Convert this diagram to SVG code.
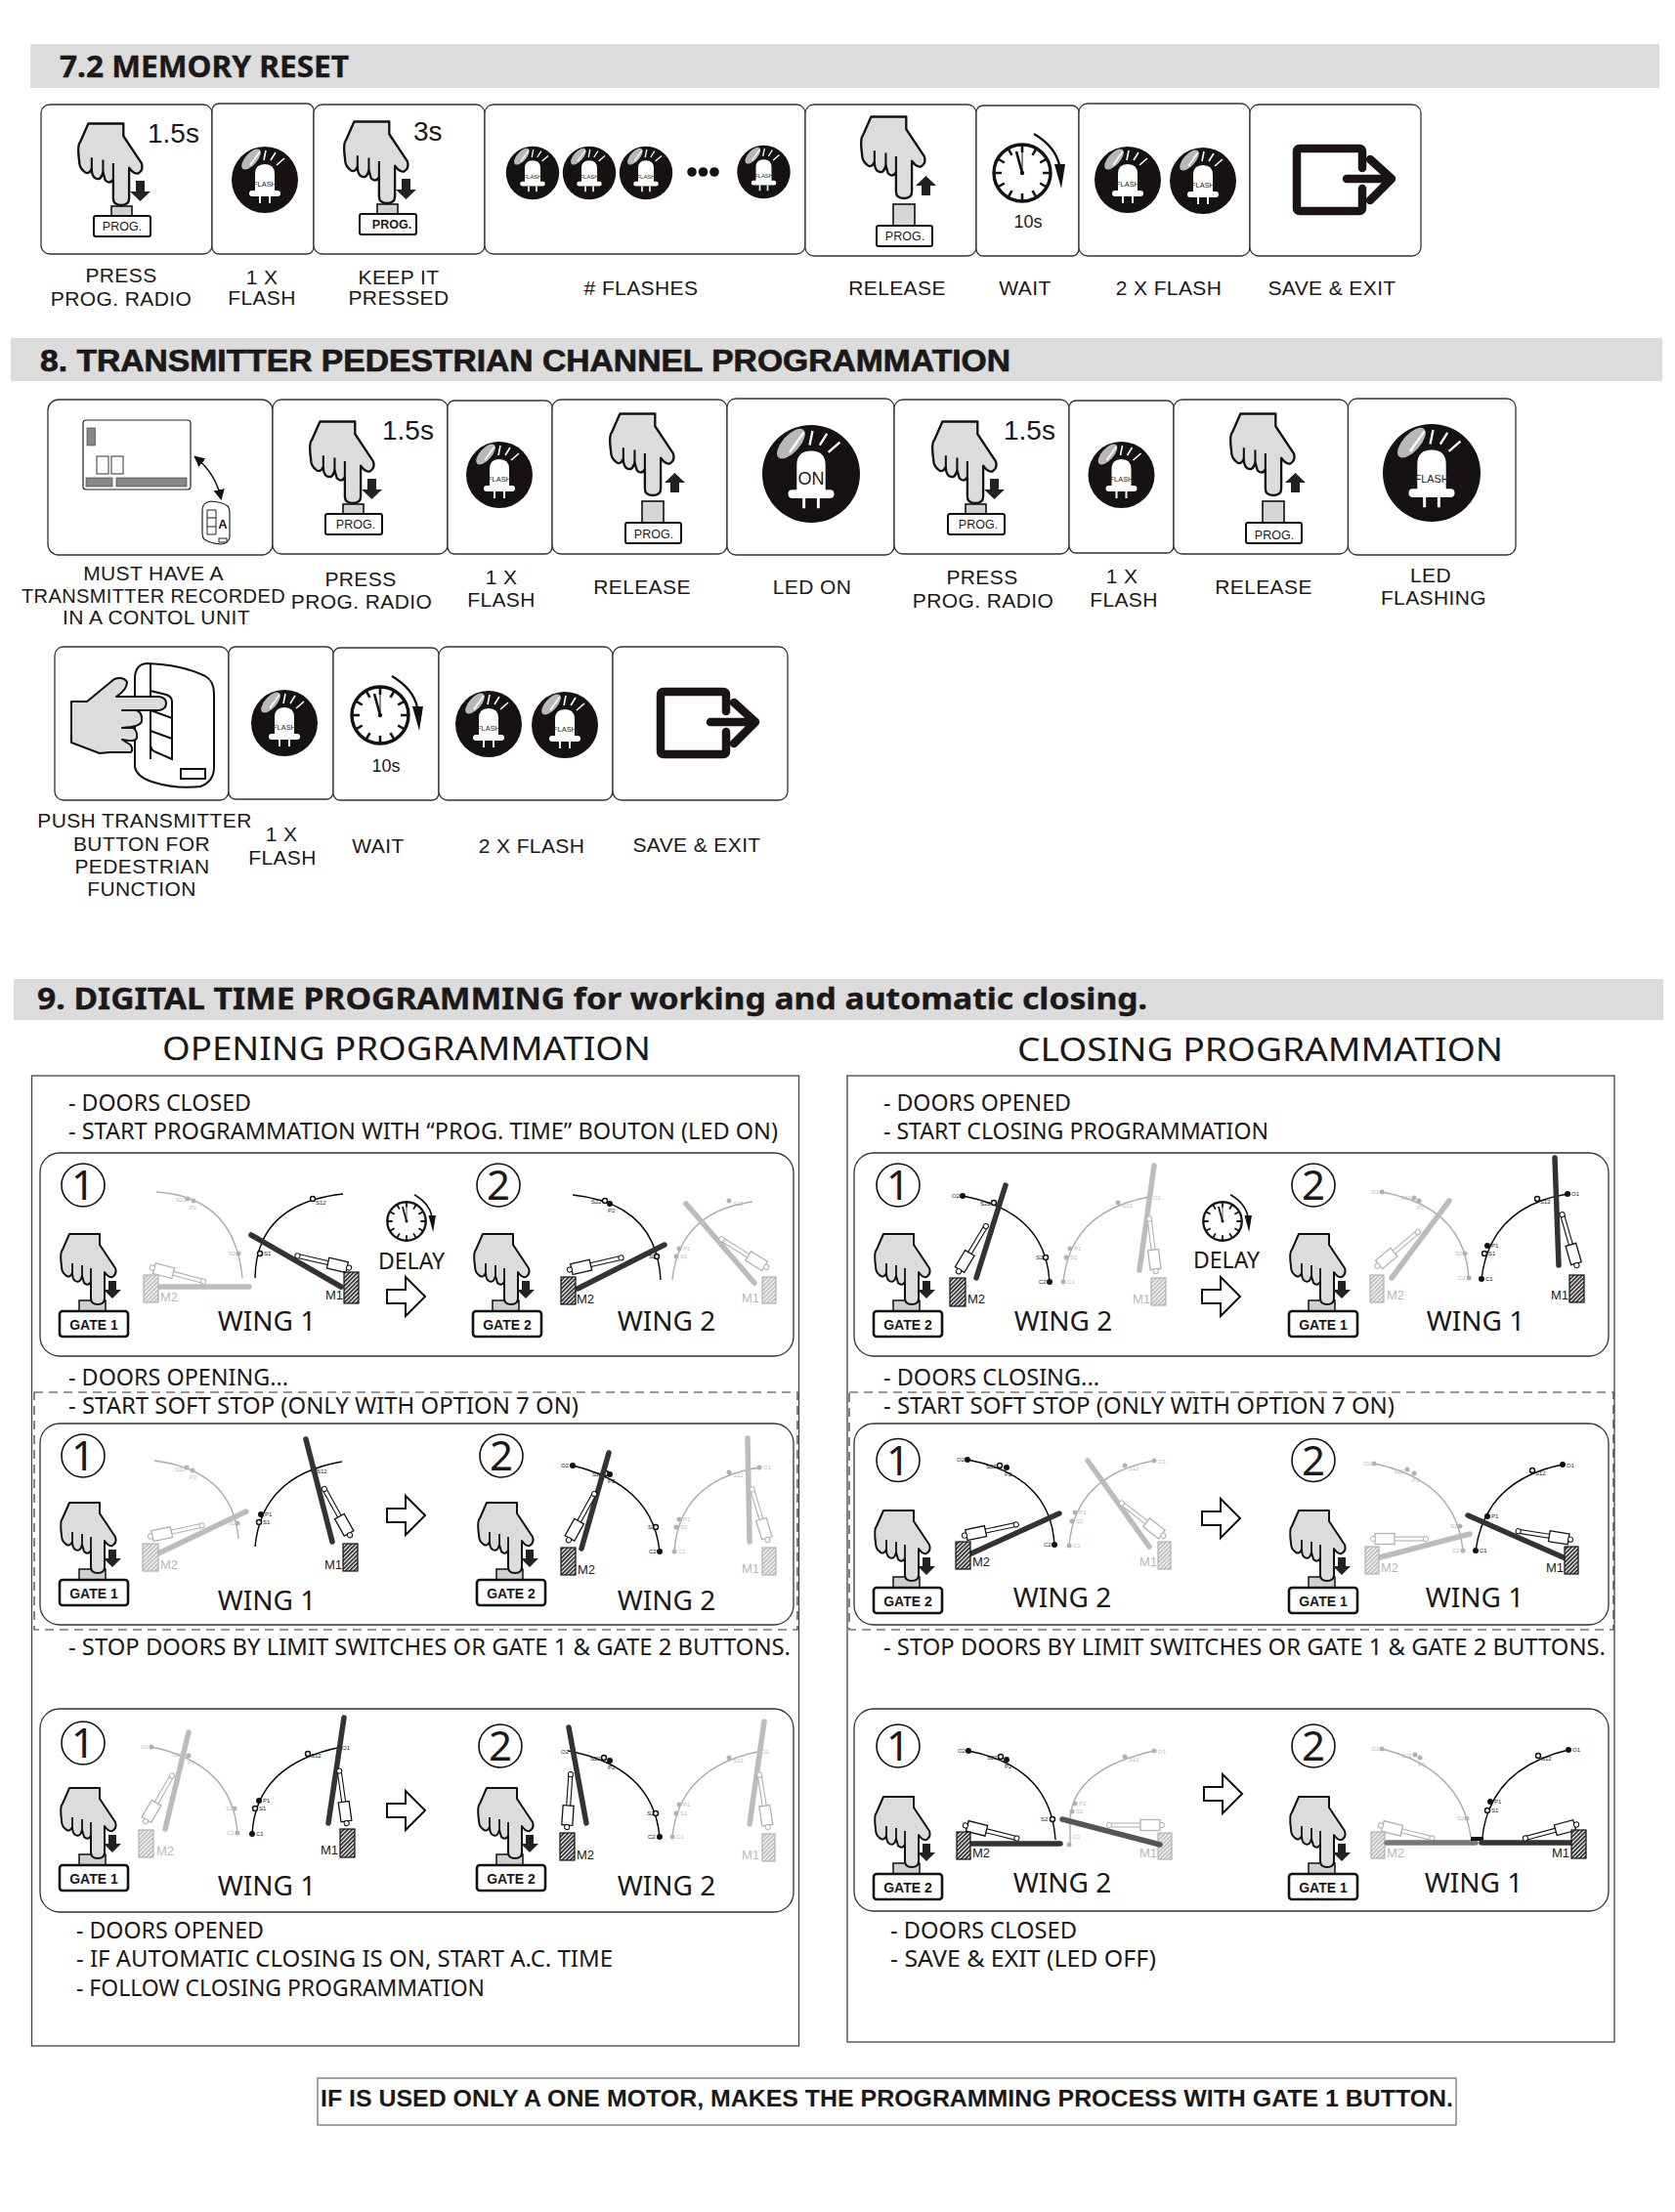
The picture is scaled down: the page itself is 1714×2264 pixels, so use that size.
<svg xmlns="http://www.w3.org/2000/svg" width="1714" height="2264" viewBox="0 0 1714 2264">
<style>
text{font-family:"Liberation Sans",Arial,sans-serif;fill:#1c1818}
.hd{fill:#dcdcdc}
.hb{font-weight:700;font-size:32px;stroke:#1c1818;stroke-width:.7}
.hn{font-family:"Noto Sans",sans-serif;font-weight:700;font-size:31px;stroke:#1c1818;stroke-width:.4}
.box{fill:#fff;stroke:#333;stroke-width:1.3}
.lb{font-size:21px;letter-spacing:.4px;text-anchor:middle}
.pg{font-size:12.5px;text-anchor:middle}
.pb{font-size:12.5px;font-weight:700;text-anchor:middle}
.sec{font-size:28px}
.ten{font-size:18px;text-anchor:middle}
.fl{font-size:7.4px;text-anchor:middle;fill:#222}
.s9{font-family:"Noto Sans",sans-serif;font-size:23px}
.ti{font-family:"Noto Sans",sans-serif;font-size:33px}
.pan{fill:#fff;stroke:#333;stroke-width:1.3}
.out{fill:#fff;stroke:#444;stroke-width:1.3}
.dash{fill:none;stroke:#333;stroke-width:1.2;stroke-dasharray:9 6}
.ci{fill:#fff;stroke:#111;stroke-width:1.6}
.n{font-family:"Noto Sans",sans-serif;font-size:42px;text-anchor:middle}
.w{font-family:"Noto Sans",sans-serif;font-size:28px;text-anchor:middle}
.dl{font-family:"Noto Sans",sans-serif;font-size:23px;text-anchor:middle}
.gt{font-size:14px;font-weight:700;text-anchor:middle}
.a{fill:none;stroke:#000;stroke-width:1.4}
.leaf{stroke:#333;stroke-width:5.5;stroke-linecap:round}
.d{fill:#111}
.o{fill:#fff;stroke:#111;stroke-width:1.5}
.t{font-size:6px}
.m{font-size:13px}
.me{font-size:13px;text-anchor:end}
.mb{fill:url(#hatch);stroke:#111;stroke-width:1.2}
.off{opacity:.32}
.bl{fill:#171212}
</style>
<defs>
<pattern id="hatch" width="3" height="3" patternUnits="userSpaceOnUse" patternTransform="rotate(45)"><rect width="3" height="3" fill="#fff"/><rect width="1.7" height="3" fill="#222"/></pattern>
<marker id="tri" viewBox="0 0 10 10" refX="8" refY="5" markerWidth="7" markerHeight="7" orient="auto-start-reverse"><path d="M0,0L10,5L0,10Z" fill="#111"/></marker>
<g id="hand"><path d="M-29,-72H2V-61L18,-37Q20,-31 15,-28Q11,-27 7,-33V-6Q7,0 0,0Q-7,0 -7,-6V-23Q-10,-18 -14,-22L-16,-29Q-18,-21 -23,-24Q-26,-26 -26,-32Q-29,-26 -33,-30Q-37,-33 -37,-39Q-39,-53 -36,-56Z" fill="#dcdcdc" stroke="#111" stroke-width="2" stroke-linejoin="round"/><path d="M-7,-23V-37M-16,-29V-40M-26,-32V-42" fill="none" stroke="#111" stroke-width="1.8"/></g>
<g id="pr"><rect x="-10" y="1" width="21" height="10" fill="#d0d0d0" stroke="#111" stroke-width="1.6"/><use href="#hand" transform="scale(1.16)"/><rect x="-28" y="11" width="58" height="21" rx="2" fill="#fff" stroke="#111" stroke-width="2"/><path d="M15,-25H24V-14H30L19.5,-4L9,-14H15Z" fill="#222"/></g>
<g id="rl"><use href="#hand" transform="scale(1.16)"/><rect x="-11" y="6" width="22" height="22" fill="#d6d6d6" stroke="#111" stroke-width="1.6"/><rect x="-28" y="28" width="57" height="21" rx="2" fill="#fff" stroke="#111" stroke-width="2"/><path d="M18,-3H27V-13H33L22.5,-23L12,-13H18Z" fill="#222"/></g>
<g id="gb"><rect x="-19" y="-4" width="27" height="11" fill="#cfcfcf" stroke="#111" stroke-width="1.5"/><use href="#hand"/><rect x="-39" y="7" width="70" height="26" rx="3" fill="#fff" stroke="#111" stroke-width="2.6"/><path d="M11,-24H19V-15H24L15,-6L6,-15H11Z" fill="#222"/></g>
<g id="led"><circle r="34" fill="#171212"/><ellipse cx="-14" cy="-21" rx="13" ry="6" transform="rotate(-48 -14 -21)" fill="#b8b8b8"/><path d="M-15,-15L-5,-29M-1,-20L1,-30M6,-20L11,-28M12,-15L20,-22" stroke="#fff" stroke-width="1.6" fill="none"/><path d="M-10,11V-6Q-10,-16 0,-16Q10,-16 10,-6V11H13Q16,11 16,14Q16,17 13,17H-13Q-16,17 -16,14Q-16,11 -13,11Z" fill="#fff"/><path d="M-5,17V24M5,17V24" stroke="#fff" stroke-width="2"/></g>
<g id="clock"><circle r="29" fill="#fff" stroke="#111" stroke-width="3.4"/><path d="M0,-28V-21M14,-24.2L10.5,-18.2M24.2,-14L18.2,-10.5M28,0H21M24.2,14L18.2,10.5M14,24.2L10.5,18.2M0,28V21M-14,24.2L-10.5,18.2M-24.2,14L-18.2,10.5M-28,0H-21M-24.2,-14L-18.2,-10.5M-14,-24.2L-10.5,-18.2" stroke="#111" stroke-width="2.6" fill="none"/><path d="M0,0L-6,-22" stroke="#111" stroke-width="2.6"/><path d="M0,0V-26" stroke="#111" stroke-width="1"/><circle r="2.2" fill="#111"/><path d="M12,-40Q34,-27 38,-8" fill="none" stroke="#111" stroke-width="2.4"/><path d="M33,-9H44L40,16Z" fill="#111"/></g>
<g id="exit" fill="none" stroke="#1a1414" stroke-width="8.5" stroke-linecap="round" stroke-linejoin="round"><path d="M70,-11V-28Q70,-31 67,-31H6Q3,-31 3,-28V30Q3,33 6,33H67Q70,33 70,30V10"/><path d="M54,0H97M78,-20L100,0L78,22"/></g>
<path id="ar" d="M0,13H19V0L39,20L19,40V27H0Z" fill="#fff" stroke="#111" stroke-width="2"/>
<g id="act"><rect x="20" y="-2" width="36" height="4" fill="#fff" stroke="#111" stroke-width="1.1"/><rect x="4" y="-5.5" width="20" height="11" fill="#fff" stroke="#111" stroke-width="1.3"/><circle cx="56" r="2.6" fill="#fff" stroke="#111"/><circle cx="2" r="2.6" fill="#fff" stroke="#111"/></g>
</defs>
<rect width="1714" height="2264" fill="#fff"/>

<g id="sec72">
<rect class="hd" x="31" y="45" width="1667" height="45"/>
<text class="hn" x="61" y="79" textLength="296" lengthAdjust="spacingAndGlyphs">7.2 MEMORY RESET</text>
<g id="s72-1"><rect class="box" x="42" y="107" width="175" height="153" rx="9"/><use href="#pr" transform="translate(124,210)"/><text class="pg" x="125" y="236">PROG.</text><text class="sec" x="151" y="146">1.5s</text><text class="lb" x="124" y="289">PRESS</text><text class="lb" x="124" y="313">PROG. RADIO</text></g>
<g id="s72-2"><rect class="box" x="217" y="106" width="104" height="154" rx="7"/><g transform="translate(271,184)"><use href="#led"/><text class="fl" y="7">FLASH</text></g><text class="lb" x="268" y="291">1 X</text><text class="lb" x="268" y="312">FLASH</text></g>
<g id="s72-3"><rect class="box" x="321" y="107" width="175" height="153" rx="9"/><use href="#pr" transform="translate(396,208)"/><text class="pb" x="401" y="234">PROG.</text><text class="sec" x="423" y="144">3s</text><text class="lb" x="408" y="291">KEEP IT</text><text class="lb" x="408" y="312">PRESSED</text></g>
<g id="s72-4"><rect class="box" x="496" y="107" width="328" height="153" rx="9"/>
<g transform="translate(545,177) scale(.8)"><use href="#led"/><text class="fl" y="7">FLASH</text></g>
<g transform="translate(603,177) scale(.8)"><use href="#led"/><text class="fl" y="7">FLASH</text></g>
<g transform="translate(661,177) scale(.8)"><use href="#led"/><text class="fl" y="7">FLASH</text></g>
<circle class="bl" cx="708" cy="176" r="4.8"/><circle class="bl" cx="719.5" cy="176" r="4.8"/><circle class="bl" cx="731" cy="176" r="4.8"/>
<g transform="translate(781.5,176) scale(.8)"><use href="#led"/><text class="fl" y="7">FLASH</text></g>
<text class="lb" x="656" y="302"># FLASHES</text></g>
<g id="s72-5"><rect class="box" x="824" y="107" width="175" height="155" rx="9"/><use href="#rl" transform="translate(925,203)"/><text class="pg" x="926" y="246">PROG.</text><text class="lb" x="918" y="302">RELEASE</text></g>
<g id="s72-6"><rect class="box" x="999" y="108" width="105" height="154" rx="7"/><use href="#clock" transform="translate(1046,177)"/><text class="ten" x="1052" y="233">10s</text><text class="lb" x="1049" y="302">WAIT</text></g>
<g id="s72-7"><rect class="box" x="1104" y="106" width="175" height="156" rx="9"/><g transform="translate(1154,184)"><use href="#led"/><text class="fl" y="7">FLASH</text></g><g transform="translate(1231,185)"><use href="#led"/><text class="fl" y="7">FLASH</text></g><text class="lb" x="1196" y="302">2 X FLASH</text></g>
<g id="s72-8"><rect class="box" x="1279" y="107" width="175" height="155" rx="9"/><use href="#exit" transform="translate(1324,183)"/><text class="lb" x="1363" y="302">SAVE &amp; EXIT</text></g>
</g>

<g id="sec8">
<rect class="hd" x="11" y="346" width="1690" height="44"/>
<text class="hb" x="41" y="380" textLength="993" lengthAdjust="spacingAndGlyphs">8. TRANSMITTER PEDESTRIAN CHANNEL PROGRAMMATION</text>
<g id="s8-1"><rect class="box" x="49" y="409" width="230" height="159" rx="11"/>
<rect x="85" y="430" width="110" height="71" rx="3" fill="#fff" stroke="#222" stroke-width="1.2"/><rect x="89" y="438" width="8.5" height="18" fill="#888" stroke="#333" stroke-width=".6"/><rect x="99" y="467" width="12" height="18" fill="#fff" stroke="#333"/><rect x="114" y="467" width="12" height="18" fill="#fff" stroke="#333"/><rect x="88" y="489" width="27" height="9" fill="#888" stroke="#333" stroke-width=".6"/><rect x="119" y="489" width="72" height="9" fill="#888" stroke="#333" stroke-width=".6"/>
<path d="M200,468Q221,485 226,510" fill="none" stroke="#111" stroke-width="1.6" marker-start="url(#tri)" marker-end="url(#tri)"/>
<path d="M207,522Q207,514 216,513Q228,514 233,518Q235,520 235,526V550Q234,556 226,557Q215,556 209,552Q207,550 207,546Z" fill="#fff" stroke="#222" stroke-width="1.2"/><path d="M212,522V547M221,522V547M212,530H221M212,539H221M212,522H221M212,547H221" fill="none" stroke="#222"/><rect x="224" y="551" width="8" height="4" fill="#fff" stroke="#222"/><text x="228" y="541" font-size="13" font-weight="700" text-anchor="middle">A</text>
<text class="lb" x="157" y="594">MUST HAVE A</text><text class="lb" x="157" y="617" textLength="270" lengthAdjust="spacingAndGlyphs">TRANSMITTER RECORDED</text><text class="lb" x="160" y="639">IN A CONTOL UNIT</text></g>
<g id="s8-2"><rect class="box" x="279" y="409" width="179" height="158" rx="9"/><use href="#pr" transform="translate(361,515)"/><text class="pg" x="364" y="541">PROG.</text><text class="sec" x="391" y="450">1.5s</text><text class="lb" x="369" y="600">PRESS</text><text class="lb" x="370" y="623">PROG. RADIO</text></g>
<g id="s8-3"><rect class="box" x="458" y="410" width="107" height="157" rx="7"/><g transform="translate(511,486)"><use href="#led"/><text class="fl" y="7">FLASH</text></g><text class="lb" x="513" y="598">1 X</text><text class="lb" x="513" y="621">FLASH</text></g>
<g id="s8-4"><rect class="box" x="565" y="409" width="179" height="158" rx="9"/><use href="#rl" transform="translate(668,507)"/><text class="pg" x="669" y="551">PROG.</text><text class="lb" x="657" y="608">RELEASE</text></g>
<g id="s8-5"><rect class="box" x="744" y="408" width="171" height="160" rx="9"/><g transform="translate(830,485) scale(1.47)"><use href="#led"/></g><text x="830" y="496" font-size="18" text-anchor="middle">ON</text><text class="lb" x="831" y="608">LED ON</text></g>
<g id="s8-6"><rect class="box" x="915" y="409" width="179" height="158" rx="9"/><use href="#pr" transform="translate(998,515)"/><text class="pg" x="1001" y="541">PROG.</text><text class="sec" x="1027" y="450">1.5s</text><text class="lb" x="1005" y="598">PRESS</text><text class="lb" x="1006" y="622">PROG. RADIO</text></g>
<g id="s8-7"><rect class="box" x="1094" y="410" width="107" height="156" rx="7"/><g transform="translate(1147.5,486)"><use href="#led"/><text class="fl" y="7">FLASH</text></g><text class="lb" x="1148" y="597">1 X</text><text class="lb" x="1150" y="621">FLASH</text></g>
<g id="s8-8"><rect class="box" x="1201" y="409" width="178.500" height="158" rx="9"/><use href="#rl" transform="translate(1303,507)"/><text class="pg" x="1304" y="552">PROG.</text><text class="lb" x="1293" y="608">RELEASE</text></g>
<g id="s8-9"><rect class="box" x="1379.500" y="408" width="171.500" height="160" rx="9"/><g transform="translate(1465,484) scale(1.47)"><use href="#led"/><text class="fl" y="7">FLASH</text></g><text class="lb" x="1464" y="596">LED</text><text class="lb" x="1467" y="619">FLASHING</text></g>
<g id="s8-10"><rect class="box" x="56" y="662" width="178" height="157" rx="9"/>
<path d="M138,695Q138,680 150,679Q185,680 210,692Q219,697 219,710V785Q219,800 205,805Q180,808 155,800Q140,795 138,785Z" fill="#fff" stroke="#111" stroke-width="2"/><path d="M154,679V777" fill="none" stroke="#111" stroke-width="2"/><path d="M154,707L170,711Q176,713 176,718V777L160,770Q154,768 154,762Z M154,727L176,735M154,748L176,756" fill="#fff" stroke="#111" stroke-width="2"/><rect x="185" y="787" width="25" height="10" fill="#fff" stroke="#111" stroke-width="2"/>
<path d="M73,718H89L117,695Q126,692 130,698Q130,706 119,713H163Q170,714 170,720Q170,726 163,727H125H140Q146,730 145,738Q144,744 125,745H136Q141,748 140,755Q139,760 125,757L133,762Q137,766 134,770H112L102,771L73,760Z" fill="#dcdcdc" stroke="#111" stroke-width="2" stroke-linejoin="round"/>
<text class="lb" x="148" y="847">PUSH TRANSMITTER</text><text class="lb" x="145" y="871">BUTTON FOR</text><text class="lb" x="145.500" y="894">PEDESTRIAN</text><text class="lb" x="145" y="917">FUNCTION</text></g>
<g id="s8-11"><rect class="box" x="234" y="662" width="107" height="156" rx="7"/><g transform="translate(291,740)"><use href="#led"/><text class="fl" y="7">FLASH</text></g><text class="lb" x="288" y="861">1 X</text><text class="lb" x="289" y="885">FLASH</text></g>
<g id="s8-12"><rect class="box" x="341" y="663" width="108" height="156" rx="7"/><use href="#clock" transform="translate(389,732)"/><text class="ten" x="395" y="790">10s</text><text class="lb" x="387" y="873">WAIT</text></g>
<g id="s8-13"><rect class="box" x="449" y="662" width="178" height="157" rx="9"/><g transform="translate(500,741)"><use href="#led"/><text class="fl" y="7">FLASH</text></g><g transform="translate(578,742)"><use href="#led"/><text class="fl" y="7">FLASH</text></g><text class="lb" x="544" y="873">2 X FLASH</text></g>
<g id="s8-14"><rect class="box" x="627" y="662" width="179" height="157" rx="9"/><use href="#exit" transform="translate(673,739)"/><text class="lb" x="713" y="872">SAVE &amp; EXIT</text></g>
</g>

<g id="sec9">
<rect class="hd" x="14" y="1002" width="1688" height="42"/>
<text class="hn" x="38" y="1033" textLength="1136" lengthAdjust="spacingAndGlyphs">9. DIGITAL TIME PROGRAMMING for working and automatic closing.</text>
<text class="ti" x="166" y="1085" textLength="500" lengthAdjust="spacingAndGlyphs">OPENING PROGRAMMATION</text>
<text class="ti" x="1041" y="1086" textLength="497" lengthAdjust="spacingAndGlyphs">CLOSING PROGRAMMATION</text>
</g>

<g id="left-panel">
<rect class="out" x="32.500" y="1101" width="785" height="993"/>
<text class="s9" x="70" y="1137" textLength="187" lengthAdjust="spacingAndGlyphs">- DOORS CLOSED</text>
<text class="s9" x="70" y="1166" textLength="726" lengthAdjust="spacingAndGlyphs">- START PROGRAMMATION WITH “PROG. TIME” BOUTON (LED ON)</text>
<text class="s9" x="70" y="1418" textLength="225" lengthAdjust="spacingAndGlyphs">- DOORS OPENING...</text>
<rect class="dash" x="35" y="1425" width="781" height="243"/>
<text class="s9" x="70" y="1447" textLength="522" lengthAdjust="spacingAndGlyphs">- START SOFT STOP (ONLY WITH OPTION 7 ON)</text>
<text class="s9" x="70" y="1694" textLength="739" lengthAdjust="spacingAndGlyphs">- STOP DOORS BY LIMIT SWITCHES OR GATE 1 &amp; GATE 2 BUTTONS.</text>
<text class="s9" x="78" y="1984" textLength="192" lengthAdjust="spacingAndGlyphs">- DOORS OPENED</text>
<text class="s9" x="78" y="2013" textLength="549" lengthAdjust="spacingAndGlyphs">- IF AUTOMATIC CLOSING IS ON, START A.C. TIME</text>
<text class="s9" x="78" y="2043" textLength="418" lengthAdjust="spacingAndGlyphs">- FOLLOW CLOSING PROGRAMMATION</text>

<g id="L1">
<rect class="pan" x="41" y="1180" width="771" height="208" rx="20"/>
<circle class="ci" cx="85" cy="1213" r="22"/><text class="n" x="85" y="1228">1</text>
<circle class="ci" cx="510" cy="1213" r="22"/><text class="n" x="510" y="1228">2</text>
<g transform="translate(100,1335)"><use href="#gb"/><text class="gt" x="-4" y="26">GATE 1</text></g>
<g transform="translate(523,1335)"><use href="#gb"/><text class="gt" x="-4" y="26">GATE 2</text></g>
<text class="w" x="273" y="1362">WING 1</text><text class="w" x="682" y="1362">WING 2</text>
<use href="#clock" transform="translate(416,1250) scale(.68)"/><text class="dl" x="421" y="1299">DELAY</text><use href="#ar" transform="translate(396,1307)"/>
<g class="off"><path class="a" d="M160,1220Q240,1225 248,1308"/><circle class="d" cx="192" cy="1227" r="2.500"/><circle class="d" cx="198" cy="1229" r="2.500"/><circle class="d" cx="244" cy="1283" r="2.500"/><text class="t" x="180" y="1230">S22</text><text class="t" x="194" y="1238">P2</text><text class="t" x="234" y="1285">S2</text><line class="leaf" x1="163" y1="1317" x2="255" y2="1317"/><use href="#act" transform="translate(154,1297) rotate(15)"/><rect class="mb" x="147" y="1305" width="15" height="28"/><text class="m" x="164" y="1332">M2</text></g>
<g><path class="a" d="M351,1222Q262,1232 261,1308"/><circle class="o" cx="320" cy="1227" r="2.500"/><circle class="o" cx="266" cy="1283" r="2.500"/><text class="t" x="323" y="1233">S12</text><text class="t" x="270" y="1285">S1</text><line class="leaf" x1="257" y1="1264" x2="349" y2="1317"/><use href="#act" transform="translate(359,1298) rotate(193)"/><rect class="mb" x="352" y="1302" width="15" height="32"/><text class="me" x="351" y="1330">M1</text></g>
<g><path class="a" d="M586,1223Q672,1232 676,1310"/><circle class="o" cx="619" cy="1229" r="2.500"/><circle class="d" cx="624" cy="1232" r="3"/><circle class="o" cx="672" cy="1286" r="2.500"/><text class="t" x="605" y="1232">S22</text><text class="t" x="622" y="1241">P2</text><text class="t" x="664" y="1288">S2</text><line class="leaf" x1="591" y1="1319" x2="680" y2="1274"/><use href="#act" transform="translate(581,1300) rotate(-13)"/><rect class="mb" x="574" y="1307" width="15" height="28"/><text class="m" x="590" y="1334">M2</text></g>
<g class="off"><path class="a" d="M688,1310Q695,1240 770,1230"/><circle class="d" cx="746" cy="1229" r="2.500"/><circle class="d" cx="695" cy="1278" r="2.500"/><circle class="d" cx="692" cy="1286" r="2.500"/><text class="t" x="750" y="1234">S12</text><text class="t" x="699" y="1280">P1</text><text class="t" x="696" y="1288">S1</text><line class="leaf" x1="702" y1="1232" x2="772" y2="1313"/><use href="#act" transform="translate(786,1298) rotate(212)"/><rect class="mb" x="780" y="1307" width="14" height="27"/><text class="me" x="777" y="1333">M1</text></g>
</g>

<g id="L2">
<rect class="pan" x="41" y="1457" width="771" height="206" rx="20"/>
<circle class="ci" cx="85" cy="1490" r="22"/><text class="n" x="85" y="1505">1</text>
<circle class="ci" cx="513" cy="1490" r="22"/><text class="n" x="513" y="1505">2</text>
<g transform="translate(100,1610)"><use href="#gb"/><text class="gt" x="-4" y="26">GATE 1</text></g>
<g transform="translate(527,1610)"><use href="#gb"/><text class="gt" x="-4" y="26">GATE 2</text></g>
<text class="w" x="273" y="1648">WING 1</text><text class="w" x="682" y="1648">WING 2</text>
<use href="#ar" transform="translate(396,1531)"/>
<g class="off"><path class="a" d="M158,1495Q238,1505 244,1575"/><circle class="d" cx="191" cy="1502" r="2.500"/><circle class="d" cx="197" cy="1505" r="2.500"/><circle class="d" cx="243" cy="1559" r="2.500"/><text class="t" x="179" y="1506">S22</text><text class="t" x="194" y="1514">P2</text><text class="t" x="234" y="1561">S2</text><line class="leaf" x1="162" y1="1590" x2="252" y2="1547"/><use href="#act" transform="translate(152,1573) rotate(-12)"/><rect class="mb" x="146" y="1580" width="16" height="28"/><text class="m" x="164" y="1606">M2</text></g>
<g><path class="a" d="M261,1583Q268,1510 350,1496"/><circle class="o" cx="321" cy="1504" r="2.500"/><circle class="d" cx="267" cy="1550" r="3"/><circle class="o" cx="265" cy="1558" r="2.500"/><text class="t" x="324" y="1508">S12</text><text class="t" x="271" y="1552">P1</text><text class="t" x="269" y="1560">S1</text><line class="leaf" x1="313" y1="1473" x2="340" y2="1578"/><use href="#act" transform="translate(359,1573) rotate(241)"/><rect class="mb" x="351" y="1580" width="15" height="28"/><text class="me" x="350" y="1606">M1</text></g>
<g><path class="a" d="M586,1500Q668,1520 675,1588"/><circle class="d" cx="586" cy="1500" r="3"/><circle class="o" cx="620" cy="1508" r="2.500"/><circle class="d" cx="624" cy="1509" r="3"/><circle class="o" cx="671" cy="1563" r="2.500"/><circle class="d" cx="675" cy="1588" r="3"/><text class="t" x="574" y="1502">O2</text><text class="t" x="606" y="1511">S22</text><text class="t" x="622" y="1518">P2</text><text class="t" x="663" y="1565">S2</text><text class="t" x="664" y="1590">C2</text><line class="leaf" x1="623" y1="1487" x2="595" y2="1585"/><use href="#act" transform="translate(581,1578) rotate(-61)"/><rect class="mb" x="574" y="1584" width="15" height="28"/><text class="m" x="591" y="1611">M2</text></g>
<g class="off"><path class="a" d="M690,1588Q695,1515 777,1502"/><circle class="d" cx="746" cy="1507" r="2.500"/><circle class="d" cx="777" cy="1502" r="2.500"/><circle class="d" cx="695" cy="1555" r="2.500"/><circle class="d" cx="692" cy="1563" r="2.500"/><circle class="d" cx="690" cy="1588" r="2.500"/><text class="t" x="750" y="1512">S12</text><text class="t" x="781" y="1504">O1</text><text class="t" x="699" y="1557">P1</text><text class="t" x="696" y="1565">S1</text><text class="t" x="694" y="1590">C1</text><line class="leaf" x1="765" y1="1472" x2="767" y2="1578"/><use href="#act" transform="translate(786,1578) rotate(253)"/><rect class="mb" x="780" y="1584" width="14" height="28"/><text class="me" x="777" y="1610">M1</text></g>
</g>

<g id="L3">
<rect class="pan" x="41" y="1749" width="771" height="208" rx="20"/>
<circle class="ci" cx="85" cy="1784" r="22"/><text class="n" x="85" y="1799">1</text>
<circle class="ci" cx="512" cy="1787" r="22"/><text class="n" x="512" y="1802">2</text>
<g transform="translate(100,1902)"><use href="#gb"/><text class="gt" x="-4" y="26">GATE 1</text></g>
<g transform="translate(527,1902)"><use href="#gb"/><text class="gt" x="-4" y="26">GATE 2</text></g>
<text class="w" x="273" y="1940">WING 1</text><text class="w" x="682" y="1940">WING 2</text>
<use href="#ar" transform="translate(396,1833)"/>
<g class="off"><path class="a" d="M155,1788Q238,1805 243,1876"/><circle class="d" cx="155" cy="1788" r="2.500"/><circle class="d" cx="188" cy="1795" r="2.500"/><circle class="d" cx="193" cy="1797" r="2.500"/><circle class="d" cx="240" cy="1851" r="2.500"/><circle class="d" cx="243" cy="1876" r="2.500"/><text class="t" x="144" y="1790">O2</text><text class="t" x="176" y="1798">S22</text><text class="t" x="192" y="1806">P2</text><text class="t" x="231" y="1853">S2</text><text class="t" x="232" y="1878">C2</text><line class="leaf" x1="193" y1="1773" x2="169" y2="1872"/><use href="#act" transform="translate(148,1866) rotate(-60)"/><rect class="mb" x="142" y="1873" width="15" height="28"/><text class="m" x="160" y="1899">M2</text></g>
<g><path class="a" d="M258,1877Q262,1805 350,1788"/><circle class="o" cx="315" cy="1795" r="2.500"/><circle class="d" cx="265" cy="1843" r="3"/><circle class="o" cx="261" cy="1851" r="2.500"/><circle class="d" cx="258" cy="1877" r="3"/><text class="t" x="318" y="1799">S12</text><text class="t" x="269" y="1845">P1</text><text class="t" x="265" y="1853">S1</text><text class="t" x="262" y="1879">C1</text><text class="t" x="350" y="1791">O1</text><line class="leaf" x1="352" y1="1758" x2="336" y2="1866"/><use href="#act" transform="translate(355,1868) rotate(262)"/><rect class="mb" x="348" y="1872" width="15" height="29"/><text class="me" x="346" y="1898">M1</text></g>
<g><path class="a" d="M581,1792Q668,1808 675,1880"/><circle class="o" cx="618" cy="1799" r="2.500"/><circle class="d" cx="624" cy="1802" r="3"/><circle class="o" cx="671" cy="1856" r="2.500"/><circle class="d" cx="675" cy="1880" r="3"/><text class="t" x="574" y="1795">O2</text><text class="t" x="604" y="1802">S22</text><text class="t" x="622" y="1811">P2</text><text class="t" x="662" y="1858">S2</text><text class="t" x="663" y="1882">C2</text><line class="leaf" x1="582" y1="1768" x2="600" y2="1866"/><use href="#act" transform="translate(580,1872) rotate(-86)"/><rect class="mb" x="573" y="1876" width="15" height="28"/><text class="m" x="590" y="1903">M2</text></g>
<g class="off"><path class="a" d="M688,1880Q695,1810 775,1793"/><circle class="d" cx="746" cy="1799" r="2.500"/><circle class="d" cx="695" cy="1847" r="2.500"/><circle class="d" cx="692" cy="1856" r="2.500"/><circle class="d" cx="688" cy="1880" r="2.500"/><text class="t" x="750" y="1804">S12</text><text class="t" x="699" y="1849">P1</text><text class="t" x="696" y="1858">S1</text><text class="t" x="692" y="1882">C1</text><text class="t" x="779" y="1795">O1</text><line class="leaf" x1="782" y1="1762" x2="767" y2="1867"/><use href="#act" transform="translate(786,1872) rotate(261)"/><rect class="mb" x="780" y="1877" width="13" height="28"/><text class="me" x="777" y="1903">M1</text></g>
</g>
</g>

<g id="right-panel">
<rect class="out" x="867" y="1101" width="785" height="989"/>
<text class="s9" x="904" y="1137" textLength="192" lengthAdjust="spacingAndGlyphs">- DOORS OPENED</text>
<text class="s9" x="904" y="1166" textLength="394" lengthAdjust="spacingAndGlyphs">- START CLOSING PROGRAMMATION</text>
<text class="s9" x="904" y="1418" textLength="221" lengthAdjust="spacingAndGlyphs">- DOORS CLOSING...</text>
<rect class="dash" x="869" y="1425" width="782" height="243"/>
<text class="s9" x="904" y="1447" textLength="523" lengthAdjust="spacingAndGlyphs">- START SOFT STOP (ONLY WITH OPTION 7 ON)</text>
<text class="s9" x="904" y="1694" textLength="739" lengthAdjust="spacingAndGlyphs">- STOP DOORS BY LIMIT SWITCHES OR GATE 1 &amp; GATE 2 BUTTONS.</text>
<text class="s9" x="911" y="1984" textLength="191" lengthAdjust="spacingAndGlyphs">- DOORS CLOSED</text>
<text class="s9" x="911" y="2013" textLength="272" lengthAdjust="spacingAndGlyphs">- SAVE &amp; EXIT (LED OFF)</text>

<g id="R1">
<rect class="pan" x="874" y="1180" width="772" height="208" rx="20"/>
<circle class="ci" cx="919" cy="1213" r="22"/><text class="n" x="919" y="1228">1</text>
<circle class="ci" cx="1344" cy="1213" r="22"/><text class="n" x="1344" y="1228">2</text>
<g transform="translate(933,1335)"><use href="#gb"/><text class="gt" x="-4" y="26">GATE 2</text></g>
<g transform="translate(1358,1335)"><use href="#gb"/><text class="gt" x="-4" y="26">GATE 1</text></g>
<text class="w" x="1088" y="1362">WING 2</text><text class="w" x="1510" y="1362">WING 1</text>
<use href="#clock" transform="translate(1251,1250) scale(.68)"/><text class="dl" x="1255" y="1298">DELAY</text><use href="#ar" transform="translate(1230,1307)"/>
<g><path class="a" d="M985,1224Q1070,1240 1074,1312"/><circle class="d" cx="985" cy="1224" r="3"/><circle class="o" cx="1017" cy="1231" r="2.500"/><circle class="o" cx="1070" cy="1287" r="2.500"/><circle class="d" cx="1074" cy="1312" r="3"/><text class="t" x="974" y="1226">O2</text><text class="t" x="1003" y="1234">S22</text><text class="t" x="1060" y="1289">S2</text><text class="t" x="1063" y="1314">C2</text><line class="leaf" x1="1029" y1="1213" x2="999" y2="1308"/><use href="#act" transform="translate(980,1303) rotate(-59)"/><rect class="mb" x="972" y="1308" width="16" height="29"/><text class="m" x="990" y="1334">M2</text></g>
<g class="off"><path class="a" d="M1088,1312Q1095,1240 1176,1225"/><circle class="d" cx="1144" cy="1231" r="2.500"/><circle class="d" cx="1176" cy="1225" r="2.500"/><circle class="d" cx="1095" cy="1278" r="2.500"/><circle class="d" cx="1091" cy="1287" r="2.500"/><circle class="d" cx="1088" cy="1312" r="2.500"/><text class="t" x="1148" y="1236">S12</text><text class="t" x="1180" y="1228">O1</text><text class="t" x="1099" y="1280">P1</text><text class="t" x="1095" y="1289">S1</text><text class="t" x="1092" y="1314">C1</text><line class="leaf" x1="1181" y1="1193" x2="1166" y2="1300"/><use href="#act" transform="translate(1183,1303) rotate(263)"/><rect class="mb" x="1178" y="1308" width="15" height="28"/><text class="me" x="1177" y="1334">M1</text></g>
<g class="off"><path class="a" d="M1414,1220Q1498,1235 1503,1308"/><circle class="d" cx="1414" cy="1220" r="2.500"/><circle class="d" cx="1447" cy="1226" r="2.500"/><circle class="d" cx="1452" cy="1229" r="2.500"/><circle class="d" cx="1499" cy="1283" r="2.500"/><circle class="d" cx="1503" cy="1308" r="2.500"/><text class="t" x="1403" y="1222">O2</text><text class="t" x="1433" y="1228">S22</text><text class="t" x="1450" y="1238">P2</text><text class="t" x="1489" y="1285">S2</text><text class="t" x="1492" y="1310">C2</text><line class="leaf" x1="1483" y1="1229" x2="1424" y2="1308"/><use href="#act" transform="translate(1408,1297) rotate(-40)"/><rect class="mb" x="1402" y="1305" width="14" height="28"/><text class="m" x="1419" y="1330">M2</text></g>
<g><path class="a" d="M1516,1309Q1525,1235 1604,1222"/><circle class="d" cx="1604" cy="1222" r="3"/><circle class="o" cx="1573" cy="1227" r="2.500"/><circle class="d" cx="1522" cy="1275" r="3"/><circle class="o" cx="1519" cy="1283" r="2.500"/><circle class="d" cx="1516" cy="1309" r="3"/><text class="t" x="1608" y="1224">O1</text><text class="t" x="1576" y="1232">S12</text><text class="t" x="1526" y="1277">P1</text><text class="t" x="1523" y="1285">S1</text><text class="t" x="1520" y="1311">C1</text><line class="leaf" x1="1591" y1="1185" x2="1595" y2="1295"/><use href="#act" transform="translate(1614,1297) rotate(254)"/><rect class="mb" x="1606" y="1305" width="15" height="28"/><text class="me" x="1605" y="1330">M1</text></g>
</g>

<g id="R2">
<rect class="pan" x="874" y="1457" width="772" height="206" rx="20"/>
<circle class="ci" cx="919" cy="1494.500" r="22"/><text class="n" x="919" y="1510">1</text>
<circle class="ci" cx="1344" cy="1494.500" r="22"/><text class="n" x="1344" y="1510">2</text>
<g transform="translate(933,1618)"><use href="#gb"/><text class="gt" x="-4" y="26">GATE 2</text></g>
<g transform="translate(1358,1618)"><use href="#gb"/><text class="gt" x="-4" y="26">GATE 1</text></g>
<text class="w" x="1087" y="1645">WING 2</text><text class="w" x="1509" y="1645">WING 1</text>
<use href="#ar" transform="translate(1230,1534)"/>
<g><path class="a" d="M990,1494Q1075,1510 1079,1581"/><circle class="d" cx="990" cy="1494" r="3"/><circle class="o" cx="1023" cy="1500" r="2.500"/><circle class="d" cx="1030" cy="1502" r="3"/><circle class="d" cx="1079" cy="1581" r="3"/><text class="t" x="979" y="1496">O2</text><text class="t" x="1009" y="1503">S22</text><text class="t" x="1028" y="1511">P2</text><text class="t" x="1068" y="1583">C2</text><line class="leaf" x1="994" y1="1590" x2="1084" y2="1549"/><use href="#act" transform="translate(985,1572) rotate(-12)"/><rect class="mb" x="978" y="1578" width="15" height="28"/><text class="m" x="995" y="1603">M2</text></g>
<g class="off"><path class="a" d="M1094,1582Q1100,1510 1181,1495"/><circle class="d" cx="1181" cy="1495" r="2.500"/><circle class="d" cx="1151" cy="1500" r="2.500"/><circle class="d" cx="1100" cy="1548" r="2.500"/><circle class="d" cx="1097" cy="1557" r="2.500"/><circle class="d" cx="1094" cy="1582" r="2.500"/><text class="t" x="1185" y="1498">O1</text><text class="t" x="1155" y="1505">S12</text><text class="t" x="1104" y="1550">P1</text><text class="t" x="1101" y="1559">S1</text><text class="t" x="1098" y="1584">C1</text><line class="leaf" x1="1113" y1="1495" x2="1176" y2="1583"/><use href="#act" transform="translate(1192,1573) rotate(218)"/><rect class="mb" x="1185" y="1578" width="13" height="28"/><text class="me" x="1184" y="1603">M1</text></g>
<g class="off"><path class="a" d="M1406,1498Q1490,1515 1497,1587"/><circle class="d" cx="1406" cy="1498" r="2.500"/><circle class="d" cx="1440" cy="1504" r="2.500"/><circle class="d" cx="1447" cy="1508" r="2.500"/><circle class="d" cx="1494" cy="1562" r="2.500"/><circle class="d" cx="1497" cy="1587" r="2.500"/><text class="t" x="1395" y="1500">O2</text><text class="t" x="1426" y="1508">S22</text><text class="t" x="1445" y="1517">P2</text><text class="t" x="1484" y="1564">S2</text><text class="t" x="1486" y="1589">C2</text><line class="leaf" x1="1408" y1="1595" x2="1504" y2="1570"/><use href="#act" transform="translate(1403,1575)"/><rect class="mb" x="1397" y="1583" width="14" height="28"/><text class="m" x="1413" y="1609">M2</text></g>
<g><path class="a" d="M1510,1587Q1520,1515 1599,1499"/><circle class="d" cx="1599" cy="1499" r="3"/><circle class="o" cx="1568" cy="1505" r="2.500"/><circle class="d" cx="1522" cy="1552" r="3"/><circle class="d" cx="1510" cy="1587" r="3"/><text class="t" x="1603" y="1502">O1</text><text class="t" x="1571" y="1510">S12</text><text class="t" x="1526" y="1554">P1</text><text class="t" x="1514" y="1589">C1</text><line class="leaf" x1="1502" y1="1551" x2="1602" y2="1595"/><use href="#act" transform="translate(1609,1576) rotate(189)"/><rect class="mb" x="1601" y="1583" width="14" height="28"/><text class="me" x="1600" y="1609">M1</text></g>
</g>

<g id="R3">
<rect class="pan" x="874" y="1749" width="772" height="207" rx="20"/>
<circle class="ci" cx="919" cy="1787" r="22"/><text class="n" x="919" y="1802">1</text>
<circle class="ci" cx="1344" cy="1787" r="22"/><text class="n" x="1344" y="1802">2</text>
<g transform="translate(933,1911)"><use href="#gb"/><text class="gt" x="-4" y="26">GATE 2</text></g>
<g transform="translate(1358,1911)"><use href="#gb"/><text class="gt" x="-4" y="26">GATE 1</text></g>
<text class="w" x="1087" y="1937">WING 2</text><text class="w" x="1508" y="1937">WING 1</text>
<use href="#ar" transform="translate(1232,1816)"/>
<g><path class="a" d="M991,1792Q1075,1808 1080,1883"/><circle class="d" cx="991" cy="1792" r="3"/><circle class="o" cx="1024" cy="1798" r="2.500"/><circle class="d" cx="1030" cy="1801" r="3"/><circle class="o" cx="1077" cy="1862" r="2.500"/><text class="t" x="980" y="1794">O2</text><text class="t" x="1010" y="1801">S22</text><text class="t" x="1028" y="1810">P2</text><text class="t" x="1065" y="1864">S2</text><line class="leaf" x1="995" y1="1887" x2="1085" y2="1887"/><use href="#act" transform="translate(986,1868) rotate(14)"/><rect class="mb" x="979" y="1875" width="14" height="28"/><text class="m" x="995" y="1901">M2</text></g>
<g class="off"><path class="a" d="M1095,1860Q1100,1810 1181,1792"/><path class="a" d="M1095,1860V1887"/><circle class="d" cx="1181" cy="1792" r="2.500"/><circle class="d" cx="1151" cy="1798" r="2.500"/><circle class="d" cx="1100" cy="1846" r="2.500"/><circle class="d" cx="1097" cy="1854" r="2.500"/><circle class="d" cx="1094" cy="1888" r="2.500"/><text class="t" x="1185" y="1795">O1</text><text class="t" x="1155" y="1803">S12</text><text class="t" x="1104" y="1848">P1</text><text class="t" x="1101" y="1856">S1</text><text class="t" x="1098" y="1882">C1</text><use href="#act" transform="translate(1191,1868) rotate(180)"/><rect class="mb" x="1185" y="1876" width="14" height="27"/><text class="me" x="1184" y="1901">M1</text></g>
<line x1="1087" y1="1862" x2="1187" y2="1888" stroke="#555" stroke-width="5.500" stroke-linecap="round"/>
<g class="off"><path class="a" d="M1414,1790Q1495,1810 1505,1880"/><circle class="d" cx="1414" cy="1790" r="2.500"/><circle class="d" cx="1448" cy="1796" r="2.500"/><circle class="d" cx="1453" cy="1799" r="2.500"/><circle class="d" cx="1501" cy="1861" r="2.500"/><text class="t" x="1403" y="1792">O2</text><text class="t" x="1434" y="1799">S22</text><text class="t" x="1451" y="1808">P2</text><text class="t" x="1491" y="1863">S2</text><use href="#act" transform="translate(1411,1868) rotate(14)"/><rect class="mb" x="1403" y="1875" width="14" height="27"/><text class="m" x="1419" y="1901">M2</text></g>
<line x1="1419" y1="1886" x2="1510" y2="1886" stroke="#777" stroke-width="5.500" stroke-linecap="round"/>
<g><path class="a" d="M1517,1880Q1525,1810 1605,1791"/><circle class="d" cx="1605" cy="1791" r="3"/><circle class="o" cx="1574" cy="1797" r="2.500"/><circle class="d" cx="1525" cy="1844" r="3"/><circle class="o" cx="1522" cy="1853" r="2.500"/><text class="t" x="1609" y="1793">O1</text><text class="t" x="1577" y="1802">S12</text><text class="t" x="1529" y="1846">P1</text><text class="t" x="1526" y="1855">S1</text><rect x="1505" y="1880" width="13" height="4" fill="#111"/><line class="leaf" x1="1516" y1="1886" x2="1607" y2="1886"/><use href="#act" transform="translate(1615,1867) rotate(165)"/><rect class="mb" x="1608" y="1873" width="15" height="29"/><text class="me" x="1606" y="1901">M1</text></g>
</g>
</g>

<g id="note">
<rect x="325" y="2127" width="1165" height="48" fill="#fff" stroke="#666" stroke-width="1.2"/>
<text x="328" y="2156" font-size="24" font-weight="700" textLength="1159" lengthAdjust="spacingAndGlyphs">IF IS USED ONLY A ONE MOTOR, MAKES THE PROGRAMMING PROCESS WITH GATE 1 BUTTON.</text>
</g>
</svg>
